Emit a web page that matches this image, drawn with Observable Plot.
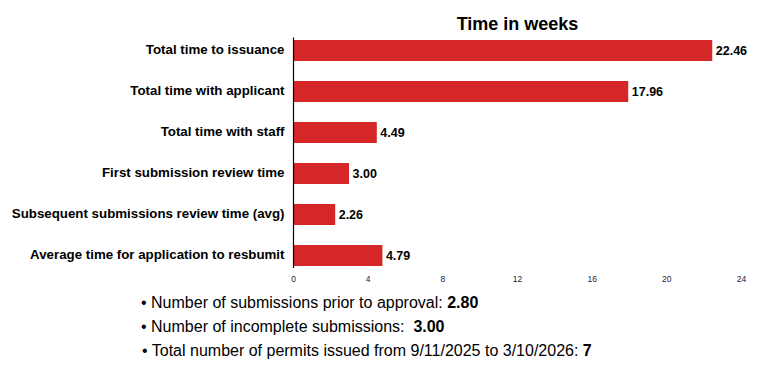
<!DOCTYPE html>
<html>
<head>
<meta charset="utf-8">
<script src="https://cdn.jsdelivr.net/npm/d3@7"></script>
<script src="https://cdn.jsdelivr.net/npm/@observablehq/plot@0.6"></script>
<style>
  body { margin: 0; background: #fff; font-family: "Liberation Sans", Arial, sans-serif; }
  #wrap { position: relative; width: 774px; height: 389px; }
  #notes { position: absolute; left: 141px; top: 291px; font-size: 16px; color: #000; line-height: 24px; }
  #notes div { white-space: pre; }
  #notes b { font-weight: bold; }
</style>
</head>
<body>
<div id="wrap">
  <div id="chart"></div>
  <div id="notes"></div>
</div>
<script>
const categories = [
  "Total time to issuance",
  "Total time with applicant",
  "Total time with staff",
  "First submission review time",
  "Subsequent submissions review time (avg)",
  "Average time for application to resbumit"
];
const weeks = [22.46, 17.96, 4.49, 3.00, 2.26, 4.79];
const xTicks = [0, 4, 8, 12, 16, 20, 24];
const chartTitle = "Time in weeks";
const noteLabels = [
  "Number of submissions prior to approval: ",
  "Number of incomplete submissions:  ",
  "Total number of permits issued from 9/11/2025 to 3/10/2026: "
];
const noteValues = ["2.80", "3.00", "7"];

const data = categories.map((c, i) => ({category: c, value: weeks[i]}));

const chart = Plot.plot({
  width: 774,
  height: 290,
  marginTop: 37.5,
  marginBottom: 22,
  marginLeft: 293,
  marginRight: 33,
  style: {fontFamily: "'Liberation Sans', Arial, sans-serif", color: "#000", background: "#fff"},
  x: {domain: [0, 24], ticks: xTicks, label: null},
  y: {domain: categories, paddingInner: 0.5, paddingOuter: 0, label: null},
  marks: [
    Plot.barX(data, {y: "category", x: "value", fill: "#d62728"}),
    Plot.ruleX([0], {stroke: "#000", strokeWidth: 1.2}),
    Plot.text(data, {y: "category", x: "value", text: d => d.value.toFixed(2), textAnchor: "start", dx: 3, fontSize: 12.5, fontWeight: "bold", fill: "#000"}),
    Plot.axisY({tickSize: 0, tickPadding: 9, fontSize: 13.3, fontWeight: "bold", fill: "#000", dy: -1}),
    Plot.axisX({ticks: xTicks, tickSize: 0, tickPadding: 7, fontSize: 8.5, fill: "#1a1a40", label: null}),
    Plot.text([chartTitle], {frameAnchor: "top", dy: -21, fontSize: 18, fontWeight: "bold", fill: "#000"})
  ]
});
document.getElementById("chart").appendChild(chart);

const notes = document.getElementById("notes");
noteLabels.forEach((t, i) => {
  const d = document.createElement("div");
  d.innerHTML = "• " + t + "<b>" + noteValues[i] + "</b>";
  if (i === 2) d.style.marginLeft = "1px";
  notes.appendChild(d);
});
</script>
</body>
</html>
